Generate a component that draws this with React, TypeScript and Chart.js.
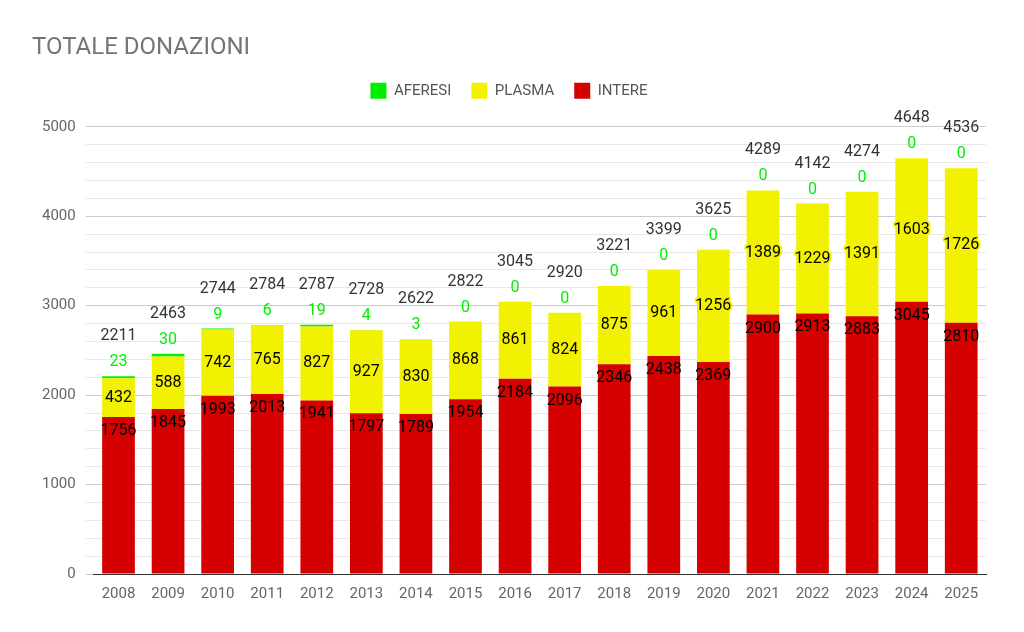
import { useEffect, useRef } from "react";
import Chart from "chart.js/auto";

const years = ["2008","2009","2010","2011","2012","2013","2014","2015","2016","2017","2018","2019","2020","2021","2022","2023","2024","2025"];
const intere = [1756,1845,1993,2013,1941,1797,1789,1954,2184,2096,2346,2438,2369,2900,2913,2883,3045,2810];
const plasma = [432,588,742,765,827,927,830,868,861,824,875,961,1256,1389,1229,1391,1603,1726];
const aferesi = [23,30,9,6,19,4,3,0,0,0,0,0,0,0,0,0,0,0];
const totals = [2211,2463,2744,2784,2787,2728,2622,2822,3045,2920,3221,3399,3625,4289,4142,4274,4648,4536];

const legendSpace = {
  id: "legendSpace",
  afterInit(chart: any) {
    const lg = chart.legend;
    if (!lg) return;
    const fit = lg.fit;
    lg.fit = function () {
      fit.call(this);
      this.height += 18;
    };
  },
};

const labelPlugin = {
  id: "labels",
  afterDatasetsDraw(chart: any) {
    const ctx = chart.ctx;
    ctx.save();
    ctx.font = "16px Roboto";
    ctx.textAlign = "center";
    ctx.textBaseline = "middle";
    const m0 = chart.getDatasetMeta(0);
    const m1 = chart.getDatasetMeta(1);
    const m2 = chart.getDatasetMeta(2);
    years.forEach((_, i) => {
      const x = m0.data[i].x;
      ctx.fillStyle = "#000";
      ctx.fillText(String(intere[i]), x, m0.data[i].y + 14);
      const py = (m1.data[i].y + m1.data[i].base) / 2;
      ctx.lineWidth = 4;
      ctx.strokeStyle = "#f2f200";
      ctx.lineJoin = "round";
      ctx.strokeText(String(plasma[i]), x, py);
      ctx.fillText(String(plasma[i]), x, py);
      const top = m2.data[i].y;
      ctx.fillStyle = "#00ee00";
      ctx.fillText(String(aferesi[i]), x, top - 14);
      ctx.fillStyle = "#333";
      ctx.fillText(String(totals[i]), x, top - 40);
    });
    ctx.restore();
  },
};

const ChartBox = () => {
  const ref = useRef<HTMLCanvasElement>(null);
  useEffect(() => {
    if (!ref.current) return;
    const c = new Chart(ref.current, {
      type: "bar",
      data: {
        labels: years,
        datasets: [
          { label: "INTERE", data: intere, backgroundColor: "#d50000" },
          { label: "PLASMA", data: plasma, backgroundColor: "#f2f200" },
          { label: "AFERESI", data: aferesi, backgroundColor: "#00ee00" },
        ],
      },
      options: {
        animation: false,
        responsive: false,
        layout: { padding: { left: 24, right: 30, top: 0, bottom: 18 } },
        datasets: { bar: { categoryPercentage: 1, barPercentage: 0.66 } },
        plugins: {
          title: {
            display: true, text: "TOTALE DONAZIONI", align: "start", color: "#757575",
            font: { family: "Roboto", size: 24, weight: "normal" }, padding: { top: 26, bottom: 0 },
          },
          legend: {
            reverse: true,
            labels: { boxWidth: 16, boxHeight: 16, color: "#555", padding: 20, font: { family: "Roboto", size: 15 } },
          },
          tooltip: { enabled: false },
        },
        scales: {
          x: {
            stacked: true,
            grid: { display: false },
            border: { color: "#333" },
            ticks: { color: "#666", font: { family: "Roboto", size: 15 } },
          },
          y: {
            stacked: true, min: 0, max: 5000,
            border: { display: false },
            grid: { color: (c: any) => (c.tick.value % 1000 === 0 ? "#ccc" : "#e8e8e8") },
            ticks: {
              stepSize: 200, autoSkip: false, color: "#666", padding: 10,
              font: { family: "Roboto", size: 15 },
              callback: (v: any) => (v % 1000 === 0 ? String(v) : ""),
            },
          },
        },
      },
      plugins: [legendSpace, labelPlugin],
    });
    return () => c.destroy();
  }, []);
  return <canvas ref={ref} width={1008} height={616} />;
};

export default function App() {
  return <ChartBox />;
}
